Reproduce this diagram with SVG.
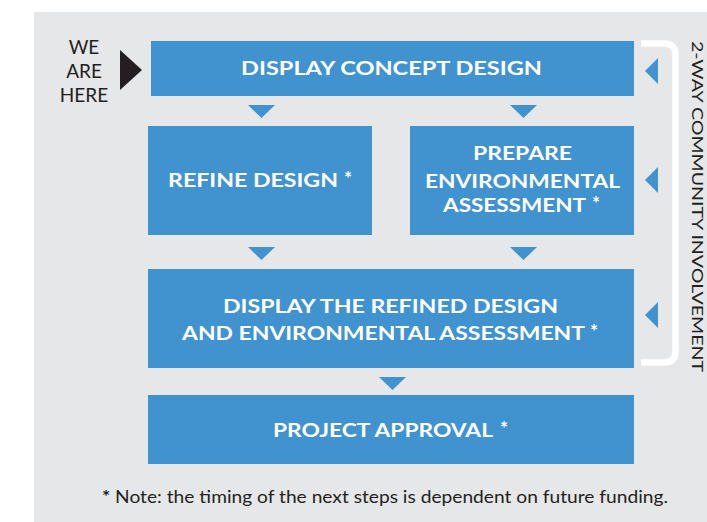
<svg xmlns="http://www.w3.org/2000/svg" width="707" height="522" viewBox="0 0 707 522">
<style>
.box{fill:#4193D0}
.arr{fill:#4193D0}
.bt{font-family:Lato,"Open Sans","Liberation Sans",sans-serif;font-weight:bold;font-size:19px;fill:#fff}
.st{font-family:Lato,"Open Sans","Liberation Sans",sans-serif;font-weight:bold;font-size:19px;fill:#fff}
.dk{font-family:Lato,"Open Sans","Liberation Sans",sans-serif;fill:#231F20}
</style>
<rect x="34" y="12" width="673" height="510" fill="#E6E7E8"/>
<g id="we-are-here">
<text class="dk" font-size="19" text-anchor="middle"><tspan x="84" y="54">WE</tspan><tspan x="84" y="78">ARE</tspan><tspan x="84" y="102">HERE</tspan></text>
<polygon points="120,50 142,70 120,90" fill="#231F20"/>
</g>
<g id="connectors">
<polygon class="arr" points="248,105 275,105 261.5,118"/>
<polygon class="arr" points="510,105 537,105 523.5,118"/>
<polygon class="arr" points="248,247 275,247 261.5,260"/>
<polygon class="arr" points="510,247 537,247 523.5,260"/>
<polygon class="arr" points="379,377 406,377 392.5,390"/>
<polygon class="arr" points="658,58 658,84 645,71"/>
<polygon class="arr" points="658,167 658,193 645,180"/>
<polygon class="arr" points="658,302 658,328 645,315"/>
<path d="M641,43.5 H664 Q675.5,43.5 675.5,55 V351 Q675.5,362.5 664,362.5 H641" fill="none" stroke="#fff" stroke-width="6.5"/>
</g>
<g id="display-concept">
<rect class="box" x="151" y="41" width="483" height="55"/>
<text class="bt" x="241" y="75" textLength="301" lengthAdjust="spacingAndGlyphs">DISPLAY CONCEPT DESIGN</text>
</g>
<g id="refine-design">
<rect class="box" x="148" y="126" width="224" height="109"/>
<text class="bt" x="168" y="187" textLength="170" lengthAdjust="spacingAndGlyphs">REFINE DESIGN</text>
<text class="st" x="344" y="185">*</text>
</g>
<g id="prepare-ea">
<rect class="box" x="410" y="126" width="224" height="109"/>
<text class="bt" x="473" y="160" textLength="99" lengthAdjust="spacingAndGlyphs">PREPARE</text>
<text class="bt" x="425" y="188" textLength="195" lengthAdjust="spacingAndGlyphs">ENVIRONMENTAL</text>
<text class="bt" x="443" y="212" textLength="143" lengthAdjust="spacingAndGlyphs">ASSESSMENT</text>
<text class="st" x="592" y="210">*</text>
</g>
<g id="display-refined">
<rect class="box" x="148" y="269" width="486" height="99"/>
<text class="bt" x="223" y="313" textLength="335" lengthAdjust="spacingAndGlyphs">DISPLAY THE REFINED DESIGN</text>
<text class="bt" x="182" y="340" textLength="403" lengthAdjust="spacingAndGlyphs">AND ENVIRONMENTAL ASSESSMENT</text>
<text class="st" x="590" y="338">*</text>
</g>
<g id="project-approval">
<rect class="box" x="148" y="395" width="486" height="69"/>
<text class="bt" x="273" y="437" textLength="220" lengthAdjust="spacingAndGlyphs">PROJECT APPROVAL</text>
<text class="st" x="500" y="435">*</text>
</g>
<g id="involvement">
<text class="dk" font-size="16" fill="#333" transform="translate(692,41) rotate(90)" x="0" y="0" textLength="331" lengthAdjust="spacingAndGlyphs">2-WAY COMMUNITY INVOLVEMENT</text>
</g>
<g id="note">
<text class="dk" x="102" y="503" font-size="17" fill="#444" textLength="566" lengthAdjust="spacingAndGlyphs"><tspan font-weight="bold" fill="#231F20">*</tspan> Note: the timing of the next steps is dependent on future funding.</text>
</g>
</svg>
